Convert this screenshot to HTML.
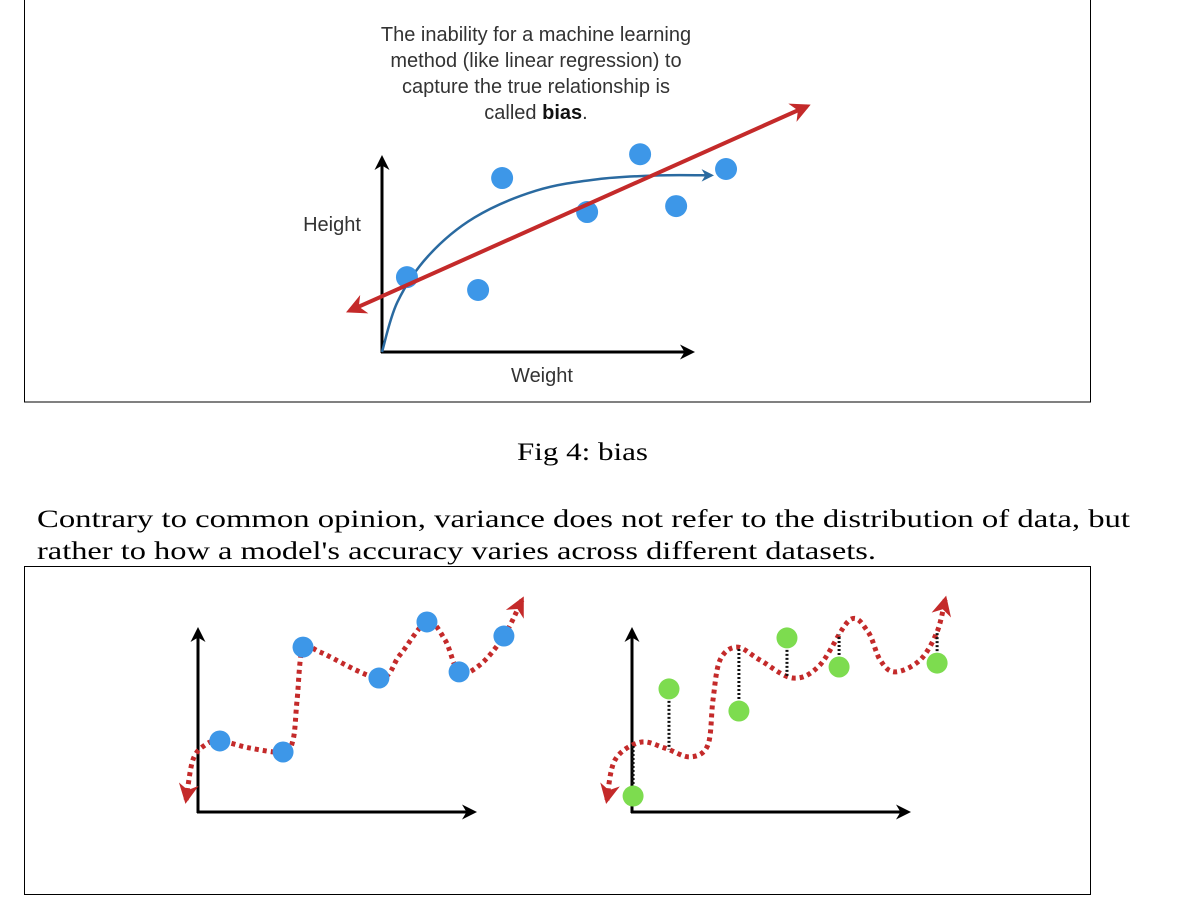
<!DOCTYPE html>
<html><head><meta charset="utf-8"><style>
html,body{margin:0;padding:0;background:#fff;width:1183px;height:900px;overflow:hidden}
svg{display:block}
.sans{font-family:"Liberation Sans",sans-serif;fill:#333}
.serif{font-family:"Liberation Serif",serif;fill:#000}
</style></head><body>
<svg id="root" width="1183" height="900" viewBox="0 0 1183 900">
<defs>
<marker id="ah-black" viewBox="0 0 10 10" refX="8" refY="5" markerWidth="5" markerHeight="5" orient="auto"><path d="M0,0 L10,5 L0,10 L3,5z" fill="#000"/></marker>
<marker id="ah-red" viewBox="0 0 10 10" refX="8" refY="5" markerWidth="5" markerHeight="5" orient="auto-start-reverse"><path d="M0,0 L10,5 L0,10 L3,5z" fill="#c42a2a"/></marker>
<marker id="ah-blue" viewBox="0 0 10 10" refX="8" refY="5" markerWidth="5" markerHeight="5" orient="auto"><path d="M0,0 L10,5 L0,10 L3,5z" fill="#2a6aa0"/></marker>
<marker id="ah-red-s" viewBox="0 0 10 10" refX="8" refY="5" markerWidth="4" markerHeight="4" orient="auto-start-reverse"><path d="M0,0 L10,5 L0,10 L3,5z" fill="#c42a2a"/></marker>
</defs>
<rect x="24.5" y="-2" width="1066" height="404" fill="none" stroke="#000" stroke-width="1"/>
<g class="sans" font-size="20" text-anchor="middle">
<text x="536" y="41">The inability for a machine learning</text>
<text x="536" y="67">method (like linear regression) to</text>
<text x="536" y="93">capture the true relationship is</text>
<text x="536" y="119">called <tspan font-weight="bold" fill="#111">bias</tspan>.</text>
</g>
<text class="sans" x="332" y="231" font-size="20" text-anchor="middle">Height</text>
<text class="sans" x="542" y="382" font-size="20" text-anchor="middle">Weight</text>
<g id="top"></g>
<text class="serif" x="517" y="460" font-size="25" textLength="131" lengthAdjust="spacingAndGlyphs">Fig 4: bias</text>
<g class="serif" font-size="25">
<text x="37" y="527" textLength="1093" lengthAdjust="spacingAndGlyphs">Contrary to common opinion, variance does not refer to the distribution of data, but</text>
<text x="37" y="559" textLength="839" lengthAdjust="spacingAndGlyphs">rather to how a model's accuracy varies across different datasets.</text>
</g>
<rect x="24.5" y="566.5" width="1066" height="328" fill="none" stroke="#000" stroke-width="1"/>
<g id="left"></g>
<g id="right"></g>
</svg>
<script>
// Top chart data (units: x 0..10, y 0..10)
const topPointsX = [0.81, 3.12, 3.9, 6.66, 8.38, 9.55, 11.17];
const topPointsY = [3.9, 3.23, 9.06, 7.29, 10.3, 7.6, 9.53];
const regLineX = [-1.05, 13.8];
const regLineY = [2.15, 12.8];
const trueCurveX = [0, 0.5, 1.5, 3, 5, 7, 9, 10.7];
const trueCurveY = [0, 2.6, 5.0, 7.0, 8.4, 9.0, 9.2, 9.2];
// Left variance chart
const leftPointsX = [0.81, 3.15, 3.89, 6.7, 8.48, 9.67, 11.33];
const leftPointsY = [4.18, 3.53, 9.7, 7.88, 11.18, 8.24, 10.35];
const leftCurveX = [-0.44, -0.19, 0.26, 0.81, 1.93, 3.15, 3.52, 3.67, 3.89, 4.52, 6.7, 7.48, 8.48, 9.15, 9.67, 10.44, 11.33, 12.0];
const leftCurveY = [0.71, 3.06, 3.94, 4.18, 3.76, 3.53, 4.24, 6.59, 9.7, 9.41, 7.88, 9.24, 11.18, 10.12, 8.24, 8.65, 10.35, 12.47];
// Right variance chart
const rightPointsX = [0.04, 1.37, 3.96, 5.74, 7.67, 11.3];
const rightPointsY = [0.94, 7.24, 5.94, 10.24, 8.53, 8.76];
const rightCurveX = [-0.93, -0.63, 0.3, 1.22, 2.15, 2.81, 3.0, 3.26, 3.89, 4.74, 5.96, 6.96, 8.07, 8.74, 9.19, 9.74, 10.67, 11.3, 11.6];
const rightCurveY = [0.7, 3.06, 4.1, 3.76, 3.24, 3.94, 6.6, 8.94, 9.7, 8.94, 7.88, 8.65, 11.3, 10.6, 8.94, 8.24, 8.94, 10.6, 12.5];

const NS = 'http://www.w3.org/2000/svg';
function mk(parent, tag, attrs){const e=document.createElementNS(NS,tag);for(const k in attrs)e.setAttribute(k,attrs[k]);parent.appendChild(e);return e;}
function scales(x0,y0,ux,uy){return {x:v=>x0+v*ux, y:v=>y0-v*uy};}
function smooth(pts){let d='M'+pts[0][0]+','+pts[0][1];for(let i=0;i<pts.length-1;i++){const p0=pts[i-1]||pts[i],p1=pts[i],p2=pts[i+1],p3=pts[i+2]||p2;
 const c1=[p1[0]+(p2[0]-p0[0])/6,p1[1]+(p2[1]-p0[1])/6],c2=[p2[0]-(p3[0]-p1[0])/6,p2[1]-(p3[1]-p1[1])/6];
 d+=' C'+c1[0]+','+c1[1]+' '+c2[0]+','+c2[1]+' '+p2[0]+','+p2[1];}return d;}
function axes(g,ox,oy,top,right,w){
 const ya=mk(g,'line',{x1:ox,y1:oy+1,x2:ox,y2:top,stroke:'#000','stroke-width':w,'marker-end':'url(#ah-black)'});
 
 
 const xa=mk(g,'line',{x1:ox-1,y1:oy,x2:right,y2:oy,stroke:'#000','stroke-width':w,'marker-end':'url(#ah-black)'});
 
 
}
(function(){
 const g=document.getElementById('top');const s=scales(382,352,30.8,19.2);
 axes(g,382,352,158,692,3);
 const tc=mk(g,'path',{d:smooth(trueCurveX.map((v,i)=>[s.x(v),s.y(trueCurveY[i])])),fill:'none',stroke:'#2a6aa0','stroke-width':2.5,'marker-end':'url(#ah-blue)'});
 
 
 topPointsX.forEach((v,i)=>{const c=mk(g,'circle',{cx:s.x(v),cy:s.y(topPointsY[i]),r:11,fill:'#3d97e8'});
  
  });
 const rl=mk(g,'line',{x1:s.x(regLineX[0]),y1:s.y(regLineY[0]),x2:s.x(regLineX[1]),y2:s.y(regLineY[1]),stroke:'#c42a2a','stroke-width':4,'marker-end':'url(#ah-red)','marker-start':'url(#ah-red)'});
 
 
})();
function variance(id,ox,oy,curveX,curveY,ptsX,ptsY,color,resid){
 const g=document.getElementById(id);const s=scales(ox,oy,27,17);
 axes(g,ox,oy,630,474+(ox-198),3);
 const cp=curveX.map((v,i)=>[s.x(v),s.y(curveY[i])]);
 const path=mk(g,'path',{d:smooth(cp),fill:'none',stroke:'#c42a2a','stroke-width':5,'stroke-dasharray':'4 4','marker-end':'url(#ah-red-s)','marker-start':'url(#ah-red-s)'});
 
 
 if(resid){
  const len=path.getTotalLength();
  ptsX.forEach((v,i)=>{const px=s.x(v);let lo=0,hi=len;
   for(let k=0;k<40;k++){const m=(lo+hi)/2;if(path.getPointAtLength(m).x<px)lo=m;else hi=m;}
   const cy=path.getPointAtLength(lo).y;
   const l=mk(g,'line',{x1:px,y1:s.y(ptsY[i]),x2:px,y2:cy,stroke:'#111','stroke-width':3,'stroke-dasharray':'2 2'});
   
   });
 }
 ptsX.forEach((v,i)=>{const c=mk(g,'circle',{cx:s.x(v),cy:s.y(ptsY[i]),r:10.5,fill:color});
  
  });
}
variance('left',198,812,leftCurveX,leftCurveY,leftPointsX,leftPointsY,'#3d97e8',false);
variance('right',632,812,rightCurveX,rightCurveY,rightPointsX,rightPointsY,'#7ddc4f',true);
</script>
</body></html>
